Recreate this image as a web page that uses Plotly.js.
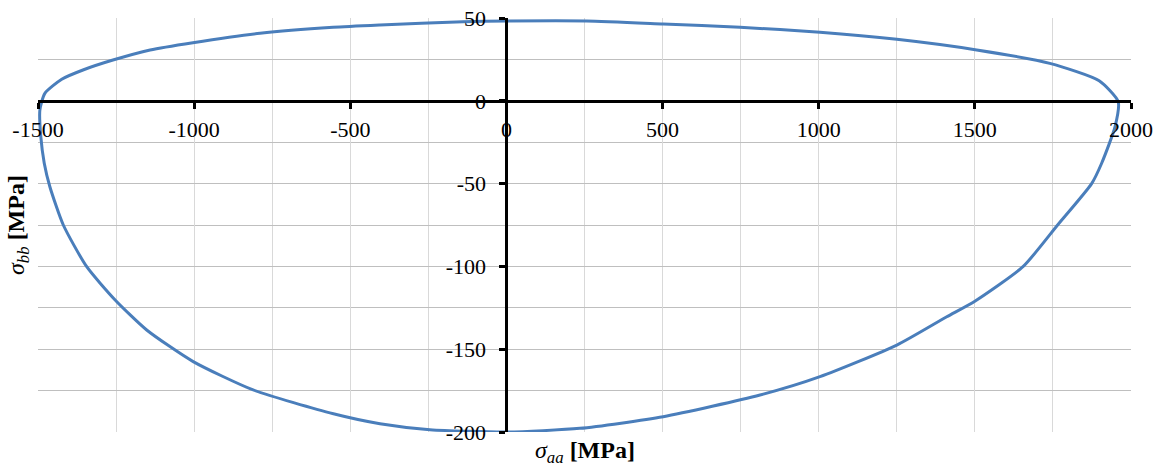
<!DOCTYPE html>
<html>
<head>
<meta charset="utf-8">
<script src="https://cdn.plot.ly/plotly-3.0.1.min.js"></script>
<style>html,body{margin:0;padding:0;background:#fff;}#chart{width:1160px;height:468px;}</style>
</head>
<body>
<div id="chart"></div>
<script>
// Failure envelope points (sigma_aa, sigma_bb) in MPa, traced clockwise
const sigmaAA = [
  -1478, -1424, -1356, -1260, -1141, -1004, -789, -555, -405, -139, 0, 257, 502, 748, 1004, 1250, 1506, 1740, 1898, 1959,
  1949, 1906, 1874, 1765, 1655, 1500, 1410, 1250, 1004, 812, 502, 235, 0, -245, -405, -554, -811, -1003, -1152,
  -1253, -1344, -1419, -1462, -1480, -1491, -1494, -1478
];
const sigmaBB = [
  4.5, 13, 18.6, 24.6, 30.7, 35.1, 40.8, 44.4, 45.8, 47.8, 48.2, 48.2, 46.4, 44.4, 41.4, 37.1, 30.7, 22.6, 12.1, -0.5,
  -15.6, -37.7, -50, -75, -100, -121, -130.4, -147.5, -166.6, -177.7, -190.8, -197.8, -200, -198.6, -195, -189, -174.6, -157.5, -138.4,
  -120.3, -100.2, -75, -51.9, -37.7, -21.7, -5.6, 4.5
];
const xTickVals = [-1500, -1000, -500, 0, 500, 1000, 1500, 2000];
const xTickText = ['-1500', '-1000', '-500', '0', '500', '1000', '1500', '2000'];
const yTickVals = [-200, -150, -100, -50, 0, 50];
const yTickText = ['-200', '-150', '-100', '-50', '0', '50'];
const xTitle = '<i>σ</i><sub><i>aa</i></sub> <b>[MPa]</b>';
const yTitle = '<i>σ</i><sub><i>bb</i></sub> <b>[MPa]</b>';

const serif = 'Liberation Serif';

Plotly.newPlot('chart', [{
  x: sigmaAA, y: sigmaBB, type: 'scatter', mode: 'lines',
  line: {color: '#4a7ebb', width: 3, shape: 'spline', smoothing: 0.6}, hoverinfo: 'skip'
}], {
  width: 1160, height: 468,
  margin: {l: 38, r: 29, t: 18, b: 36},
  paper_bgcolor: '#ffffff', plot_bgcolor: '#ffffff',
  showlegend: false,
  font: {family: serif, color: '#000'},
  xaxis: {
    range: [-1500, 2000], tickmode: 'array', tickvals: xTickVals, ticktext: xTickText,
    showgrid: true, gridcolor: '#d9d9d9', gridwidth: 1,
    minor: {dtick: 250, tick0: 0, showgrid: true, gridcolor: '#d9d9d9', gridwidth: 1},
    zeroline: false, showline: true, linecolor: '#000', linewidth: 3,
    ticks: 'outside', ticklen: 6, tickwidth: 3, tickcolor: '#000',
    ticklabelstandoff: 2,
    anchor: 'free', position: 0.8,
    tickfont: {family: serif, size: 22, color: '#000'}
  },
  yaxis: {
    range: [-200, 50], tickmode: 'array', tickvals: yTickVals, ticktext: yTickText,
    showgrid: true, gridcolor: '#bfbfbf', gridwidth: 1,
    minor: {dtick: 25, tick0: 0, showgrid: true, gridcolor: '#bfbfbf', gridwidth: 1},
    zeroline: false, showline: true, linecolor: '#000', linewidth: 3,
    ticks: 'outside', ticklen: 6, tickwidth: 3, tickcolor: '#000',
    ticklabelstandoff: 9,
    anchor: 'free', position: 0.4286,
    tickfont: {family: serif, size: 22, color: '#000'}
  },
  annotations: [
    {text: xTitle, xref: 'paper', yref: 'paper', x: 0.5005, y: -0.048, xanchor: 'center', yanchor: 'middle',
     showarrow: false, font: {family: serif, size: 24, color: '#000'}},
    {text: yTitle, xref: 'paper', yref: 'paper', x: -0.0183, y: 0.5, xanchor: 'center', yanchor: 'middle',
     textangle: -90, showarrow: false, font: {family: serif, size: 24, color: '#000'}}
  ]
}, {staticPlot: true});
</script>
</body>
</html>
